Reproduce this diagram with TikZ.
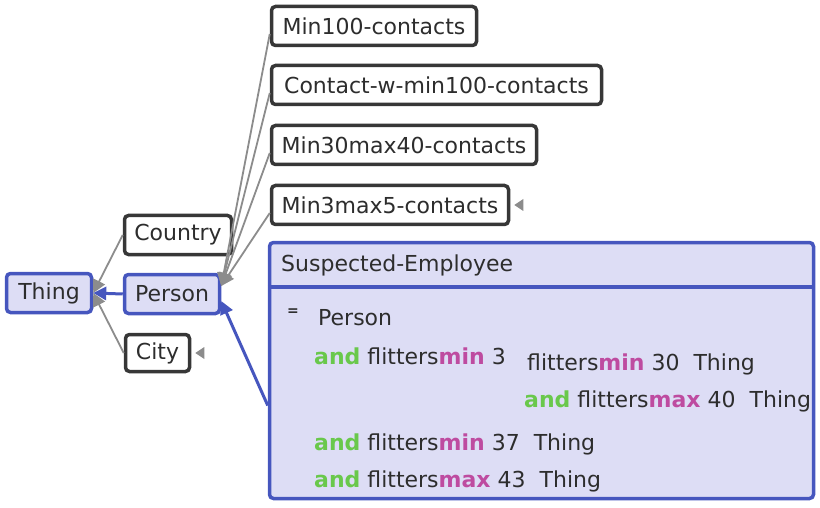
\documentclass[tikz,border=0pt]{standalone}
\usepackage{fontspec}
\setmainfont{DejaVu Sans}
\usepackage{tikz}
\usetikzlibrary{arrows.meta}

\definecolor{selblue}{RGB}{70,86,190}
\definecolor{sellav}{RGB}{221,221,245}
\definecolor{boxgray}{RGB}{55,55,55}
\definecolor{linegray}{RGB}{140,140,140}
\definecolor{kwgreen}{RGB}{105,200,75}
\definecolor{kwpink}{RGB}{190,75,160}
\definecolor{txt}{RGB}{45,45,45}

\newcommand{\lblfont}{\fontsize{22}{24}\selectfont}
\newcommand{\kwAnd}{\textcolor{kwgreen}{\bfseries and}}
\newcommand{\kwMin}{\textcolor{kwpink}{\bfseries min}}
\newcommand{\kwMax}{\textcolor{kwpink}{\bfseries max}}

\begin{document}
\begin{tikzpicture}[x=1pt,y=-1pt,font=\lblfont,text=txt]
		\useasboundingbox (0,0) rectangle (820,508);

		\begin{scope}[every node/.style={draw=boxgray,line width=3.5pt,rounded corners=4pt,
		              fill=white,minimum height=39pt,inner sep=0pt}]
			\node[draw=selblue,fill=sellav,minimum width=85pt] (Thing) at (49,293) {Thing};
			\node[minimum width=107pt] (Country) at (178,235) {Country};
			\node[draw=selblue,fill=sellav,minimum width=95pt] (Person) at (172,294) {Person};
			\node[minimum width=64pt,minimum height=37pt] (City) at (157.5,353) {City};
			\node[minimum width=205pt] (Min100) at (374,26) {Min100-contacts};
			\node[minimum width=330pt] (Contact) at (436.5,85) {Contact-w-min100-contacts};
			\node[minimum width=265pt] (Min30) at (404,145) {Min30max40-contacts};
			\node[minimum width=237pt] (Min3) at (390,205) {Min3max5-contacts};
			\node[draw=selblue,fill=sellav,minimum width=544pt,minimum height=256pt] (Susp) at (541.5,370.5) {};
		\end{scope}

		\draw[selblue,line width=4pt] ([yshift=-46pt]Susp.north west) -- ([yshift=-46pt]Susp.north east);

		\begin{scope}[every node/.style={anchor=west,inner sep=0pt}]
			\node (Head) at (281,265) {Suspected-Employee};
			\node[font=\fontsize{14}{16}\selectfont\bfseries] (Eq) at (287,312) {=};
			\node (Super) at (318,318) {Person};
			\node (Row1) at (314,356) {\kwAnd{} flitters\kwMin{} 3};
			\node (Row2) at (527,364) {flitters\kwMin{} 30\ \ Thing};
			\node (Row3) at (524,401) {\kwAnd{} flitters\kwMax{} 40\ \ Thing};
			\node (Row4) at (314,444) {\kwAnd{} flitters\kwMin{} 37\ \ Thing};
			\node (Row5) at (314,481) {\kwAnd{} flitters\kwMax{} 43\ \ Thing};
		\end{scope}

		\coordinate (pin) at ([yshift=8pt]Person.east);
		\coordinate (hook) at ([yshift=-7pt]Person.east);

		\begin{scope}[>={Triangle[length=13pt,width=13pt]},
		              every edge/.style={draw=linegray,line width=1.8pt,->}]
			\path (Country.west) edge (Thing.east);
			\path (City.west) edge (Thing.east);
			\path ([yshift=-8pt]Min100.west) edge (pin);
			\path ([yshift=-8pt]Contact.west) edge (pin);
			\path ([yshift=-8pt]Min30.west) edge (pin);
			\path ([yshift=-8pt]Min3.west) edge (pin);
			\path (Person.west) edge[draw=selblue,line width=3pt] (Thing.east);
			\path ([yshift=-35pt]Susp.west) edge[draw=selblue,line width=3pt] (hook);
		\end{scope}

		% collapsed markers
		\fill[linegray] ([xshift=4pt]City.east) -- ++(9,-6) -- ++(0,12) -- cycle;
		\fill[linegray] ([xshift=4pt]Min3.east) -- ++(9,-6) -- ++(0,12) -- cycle;
\end{tikzpicture}
\end{document}
